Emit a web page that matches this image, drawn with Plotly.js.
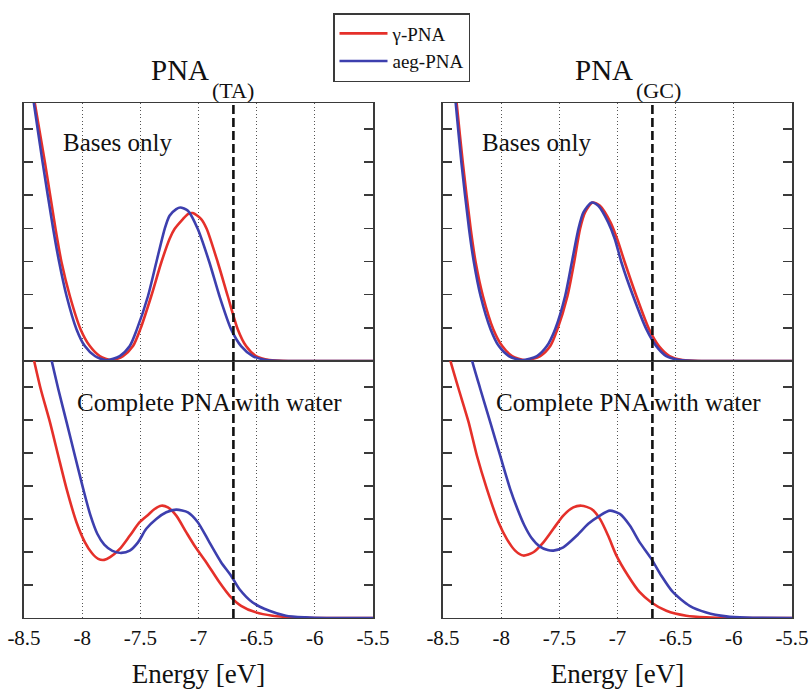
<!DOCTYPE html>
<html>
<head>
<meta charset="utf-8">
<script src="https://cdn.plot.ly/plotly-3.0.1.min.js"></script>
<style>html,body{margin:0;padding:0;background:#fff;}#chart{width:811px;height:689px;}</style>
</head>
<body>
<div id="chart"></div>
<script>
// ---------- data (energy in eV, intensity in arbitrary units) ----------
const seriesNames = ["γ-PNA", "aeg-PNA"];
const panelTitles = ["PNA", "(TA)", "PNA", "(GC)"];
const panelLabels = ["Bases only", "Complete PNA with water"];
const xTickVals = [-8.5, -8, -7.5, -7, -6.5, -6, -5.5];
const xTickText = ["-8.5", "-8", "-7.5", "-7", "-6.5", "-6", "-5.5"];
const yTickVals = [1, 2, 3, 4, 5, 6, 7];
const thresholdEnergy = -6.7;

// PNA(TA), bases only
const taBasesGammaX = [-8.43, -8.406, -8.32, -8.229, -8.177, -8.106, -8.014, -7.934, -7.849, -7.749, -7.649, -7.563, -7.5, -7.406, -7.32, -7.249, -7.206, -7.134, -7.091, -7.049, -6.977, -6.929, -6.834, -6.749, -6.663, -6.591, -6.506, -6.39, -6.2, -5.5];
const taBasesGammaY = [8.3, 7.75, 5.99, 3.98, 2.97, 1.96, 0.96, 0.45, 0.15, 0.02, 0.15, 0.45, 0.96, 1.96, 2.97, 3.68, 3.98, 4.28, 4.43, 4.46, 4.28, 3.98, 2.97, 1.96, 0.96, 0.45, 0.15, 0.03, 0, 0];
const taBasesAegX = [-8.435, -8.414, -8.34, -8.249, -8.197, -8.134, -8.049, -7.977, -7.891, -7.791, -7.677, -7.591, -7.529, -7.434, -7.363, -7.291, -7.249, -7.191, -7.157, -7.091, -7.006, -6.906, -6.82, -6.72, -6.634, -6.534, -6.42, -6.25, -5.5];
const taBasesAegY = [8.25, 7.75, 5.99, 3.98, 2.97, 1.96, 0.96, 0.45, 0.15, 0.02, 0.15, 0.45, 0.96, 1.96, 2.97, 3.98, 4.38, 4.58, 4.63, 4.53, 3.98, 2.97, 1.96, 0.96, 0.45, 0.15, 0.03, 0, 0];

// PNA(TA), complete PNA with water
const taWaterGammaX = [-8.44, -8.414, -8.357, -8.277, -8.206, -8.134, -8.049, -7.977, -7.915, -7.862, -7.81, -7.76, -7.677, -7.591, -7.506, -7.434, -7.377, -7.32, -7.263, -7.191, -7.106, -7.034, -6.934, -6.82, -6.734, -6.634, -6.506, -6.363, -6.19, -6.0, -5.5];
const taWaterGammaY = [8.2, 7.8, 6.94, 5.93, 4.92, 3.91, 2.9, 2.3, 1.96, 1.79, 1.76, 1.84, 2.09, 2.49, 2.9, 3.12, 3.3, 3.4, 3.35, 3.1, 2.6, 2.19, 1.69, 1.08, 0.68, 0.37, 0.17, 0.07, 0.02, 0, 0];
const taWaterAegX = [-8.29, -8.263, -8.206, -8.134, -8.063, -7.991, -7.93, -7.87, -7.81, -7.74, -7.663, -7.591, -7.52, -7.449, -7.363, -7.277, -7.191, -7.091, -7.006, -6.906, -6.806, -6.72, -6.649, -6.534, -6.391, -6.249, -6.08, -5.9, -5.5];
const taWaterAegY = [8.2, 7.8, 6.94, 5.93, 4.92, 3.91, 3.12, 2.55, 2.22, 2.03, 1.97, 2.04, 2.29, 2.7, 3.0, 3.2, 3.28, 3.2, 2.9, 2.29, 1.69, 1.28, 0.88, 0.47, 0.22, 0.07, 0.02, 0, 0];

// PNA(GC), bases only
const gcBasesGammaX = [-8.398, -8.382, -8.33, -8.262, -8.219, -8.157, -8.068, -7.991, -7.906, -7.792, -7.664, -7.578, -7.516, -7.43, -7.373, -7.322, -7.279, -7.214, -7.151, -7.06, -7.003, -6.937, -6.838, -6.729, -6.644, -6.553, -6.44, -6.25, -5.5];
const gcBasesGammaY = [8.3, 7.75, 5.99, 3.98, 2.97, 1.96, 0.96, 0.45, 0.15, 0.02, 0.15, 0.45, 0.96, 1.96, 2.97, 3.98, 4.48, 4.78, 4.68, 4.18, 3.68, 2.97, 1.96, 0.96, 0.45, 0.15, 0.03, 0, 0];
const gcBasesAegX = [-8.405, -8.39, -8.342, -8.276, -8.234, -8.177, -8.091, -8.02, -7.934, -7.821, -7.692, -7.607, -7.536, -7.45, -7.393, -7.336, -7.293, -7.222, -7.165, -7.08, -7.023, -6.966, -6.866, -6.752, -6.667, -6.581, -6.467, -6.28, -5.5];
const gcBasesAegY = [8.3, 7.75, 5.99, 3.98, 2.97, 1.96, 0.96, 0.45, 0.15, 0.02, 0.15, 0.45, 0.96, 1.96, 2.97, 3.98, 4.48, 4.78, 4.68, 4.18, 3.68, 2.97, 1.96, 0.96, 0.45, 0.15, 0.03, 0, 0];

// PNA(GC), complete PNA with water
const gcWaterGammaX = [-8.46, -8.437, -8.366, -8.28, -8.209, -8.123, -8.023, -7.951, -7.88, -7.809, -7.723, -7.637, -7.551, -7.466, -7.38, -7.309, -7.223, -7.151, -7.08, -7.009, -6.909, -6.809, -6.709, -6.58, -6.409, -6.237, -6.0, -5.5];
const gcWaterGammaY = [8.2, 7.8, 6.94, 5.93, 4.92, 3.91, 2.9, 2.39, 2.04, 1.89, 1.99, 2.29, 2.7, 3.1, 3.35, 3.4, 3.3, 3.0, 2.49, 1.89, 1.28, 0.78, 0.47, 0.22, 0.07, 0.02, 0, 0];
const gcWaterAegX = [-8.27, -8.251, -8.18, -8.094, -8.009, -7.923, -7.86, -7.8, -7.74, -7.67, -7.6, -7.551, -7.466, -7.351, -7.251, -7.151, -7.066, -6.98, -6.894, -6.809, -6.709, -6.623, -6.523, -6.38, -6.237, -6.066, -5.894, -5.5];
const gcWaterAegY = [8.1, 7.8, 6.94, 5.93, 4.92, 3.91, 3.3, 2.8, 2.43, 2.17, 2.06, 2.04, 2.14, 2.49, 2.85, 3.1, 3.25, 3.15, 2.8, 2.29, 1.79, 1.28, 0.78, 0.37, 0.17, 0.05, 0.01, 0];

// ---------- styling ----------
const SERIF = "'Liberation Serif', 'DejaVu Serif', serif";
const RED = "#e5302a";
const BLUE = "#3d3fae";
const AXC = "#3a3a3a";

function curve(x, y, name, color, xa, ya, showleg) {
  return {
    type: "scatter", mode: "lines", x: x, y: y, name: name,
    xaxis: xa, yaxis: ya, showlegend: showleg,
    line: {color: color, width: 2.6, shape: "spline", smoothing: 0.7},
    hoverinfo: "skip"
  };
}

const traces = [
  curve(taBasesGammaX, taBasesGammaY, seriesNames[0], RED, "x", "y", true),
  curve(taBasesAegX, taBasesAegY, seriesNames[1], BLUE, "x", "y", true),
  curve(gcBasesGammaX, gcBasesGammaY, seriesNames[0], RED, "x2", "y2", false),
  curve(gcBasesAegX, gcBasesAegY, seriesNames[1], BLUE, "x2", "y2", false),
  curve(taWaterGammaX, taWaterGammaY, seriesNames[0], RED, "x3", "y3", false),
  curve(taWaterAegX, taWaterAegY, seriesNames[1], BLUE, "x3", "y3", false),
  curve(gcWaterGammaX, gcWaterGammaY, seriesNames[0], RED, "x4", "y4", false),
  curve(gcWaterAegX, gcWaterAegY, seriesNames[1], BLUE, "x4", "y4", false)
];

const W = 811, H = 689;
const colL = [24 / W, 373 / W];
const colR = [443 / W, 792 / W];
const rowT = [1 - 361 / H, 1 - 103 / H];
const rowB = [1 - 618 / H, 1 - 361 / H];

function xax(domain, anchor, labels) {
  const a = {
    domain: domain, anchor: anchor, range: [-8.5, -5.5],
    tickmode: "array", tickvals: xTickVals, ticktext: xTickText,
    showticklabels: labels, ticks: "",
    tickfont: {family: SERIF, size: 21, color: "#111"},
    showgrid: true, gridcolor: "#555", gridwidth: 1, griddash: "1px,2.5px",
    zeroline: false, showline: true, mirror: true, linecolor: AXC, linewidth: 1.4,
    fixedrange: true, automargin: false
  };
  if (labels) {
    a.title = {text: "Energy [eV]", font: {family: SERIF, size: 27, color: "#111"}, standoff: 16};
  }
  return a;
}
function yax(domain, anchor) {
  return {
    domain: domain, anchor: anchor, range: [0, 7.78],
    tickmode: "array", tickvals: yTickVals, showticklabels: false,
    ticks: "inside", ticklen: 9, tickwidth: 1.6, tickcolor: AXC,
    showgrid: false, zeroline: false, showline: true, mirror: "ticks",
    linecolor: AXC, linewidth: 1.6, fixedrange: true, automargin: false
  };
}

const shapes = [["x", "y"], ["x2", "y2"], ["x3", "y3"], ["x4", "y4"]].map(function (p) {
  return {
    type: "line", xref: p[0], yref: p[1] + " domain",
    x0: thresholdEnergy, x1: thresholdEnergy, y0: 0, y1: 1,
    line: {color: "#111", width: 2.6, dash: "9px,4px"}
  };
});

const annotations = [
  {xref: "paper", yref: "paper", x: 180 / W, y: 1 - 69.5 / H, text: panelTitles[0], showarrow: false,
   xanchor: "center", yanchor: "middle", font: {family: SERIF, size: 29, color: "#111"}},
  {xref: "paper", yref: "paper", x: 233 / W, y: 1 - 91 / H, text: panelTitles[1], showarrow: false,
   xanchor: "center", yanchor: "middle", font: {family: SERIF, size: 22, color: "#111"}},
  {xref: "paper", yref: "paper", x: 604 / W, y: 1 - 69.5 / H, text: panelTitles[2], showarrow: false,
   xanchor: "center", yanchor: "middle", font: {family: SERIF, size: 29, color: "#111"}},
  {xref: "paper", yref: "paper", x: 658 / W, y: 1 - 91 / H, text: panelTitles[3], showarrow: false,
   xanchor: "center", yanchor: "middle", font: {family: SERIF, size: 22, color: "#111"}},
  {xref: "x", yref: "y", x: -7.69, y: 6.6, text: panelLabels[0], showarrow: false,
   xanchor: "center", yanchor: "middle", font: {family: SERIF, size: 25, color: "#111"}},
  {xref: "x2", yref: "y2", x: -7.69, y: 6.6, text: panelLabels[0], showarrow: false,
   xanchor: "center", yanchor: "middle", font: {family: SERIF, size: 25, color: "#111"}},
  {xref: "x3", yref: "y3", x: -6.905, y: 6.52, text: panelLabels[1], showarrow: false,
   xanchor: "center", yanchor: "middle", font: {family: SERIF, size: 25, color: "#111"}},
  {xref: "x4", yref: "y4", x: -6.905, y: 6.52, text: panelLabels[1], showarrow: false,
   xanchor: "center", yanchor: "middle", font: {family: SERIF, size: 25, color: "#111"}}
];

const layout = {
  width: W, height: H,
  margin: {l: 0, r: 0, t: 0, b: 0},
  paper_bgcolor: "#fff", plot_bgcolor: "#fff",
  font: {family: SERIF, color: "#111"},
  xaxis: xax(colL, "y", false), yaxis: yax(rowT, "x"),
  xaxis2: xax(colR, "y2", false), yaxis2: yax(rowT, "x2"),
  xaxis3: xax(colL, "y3", true), yaxis3: yax(rowB, "x3"),
  xaxis4: xax(colR, "y4", true), yaxis4: yax(rowB, "x4"),
  showlegend: true,
  legend: {
    x: 333 / W, y: 1 - 13 / H, xanchor: "left", yanchor: "top",
    bgcolor: "#fff", bordercolor: AXC, borderwidth: 1.5,
    font: {family: SERIF, size: 19, color: "#111"},
    itemwidth: 48, tracegroupgap: 0
  },
  shapes: shapes,
  annotations: annotations
};

Plotly.newPlot("chart", traces, layout, {staticPlot: true, displayModeBar: false});
</script>
</body>
</html>
